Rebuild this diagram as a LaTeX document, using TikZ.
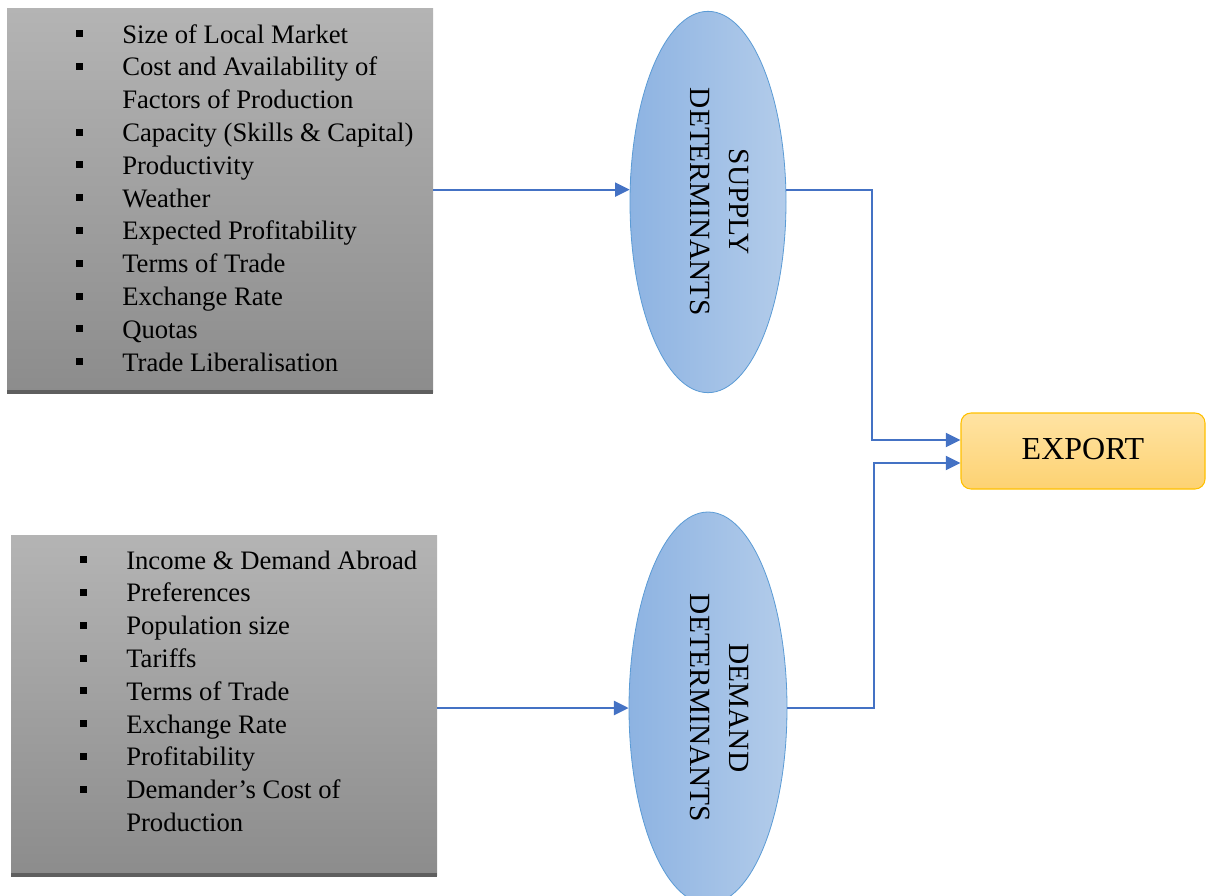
\documentclass[tikz,border=0pt]{standalone}
\usepackage{fontspec}
\setmainfont{Liberation Serif}
\usepackage{graphicx}
\usetikzlibrary{shapes.geometric,arrows.meta,positioning}

\definecolor{boxtop}{HTML}{B4B4B4}
\definecolor{boxbot}{HTML}{8C8C8C}
\definecolor{boxedge}{HTML}{5F5F5F}
\definecolor{ovleft}{HTML}{8DB3E2}
\definecolor{ovright}{HTML}{B3CCEA}
\definecolor{ovedge}{HTML}{5B9BD5}
\definecolor{exptop}{HTML}{FFE3A3}
\definecolor{expbot}{HTML}{FDD272}
\definecolor{expedge}{HTML}{FFC000}
\definecolor{linkblue}{HTML}{4472C4}

%% square bullet, fixed width so the text lines up
\newcommand\sq{\makebox[34.5pt][l]{\rule[4.3pt]{5.3pt}{5.3pt}}}
\newcommand\nosq{\makebox[34.5pt][l]{}}

\tikzset{
  listbox/.style={rectangle, draw=none, top color=boxtop, bottom color=boxbot,
    inner sep=0pt, outer sep=0pt, anchor=north west},
  listtext/.style={inner sep=0pt, anchor=base west,
    font=\fontsize{20}{24.6}\selectfont},
  oval/.style={ellipse, draw=ovedge, line width=0.6pt, left color=ovleft,
    right color=ovright, inner sep=0pt, font=\fontsize{22}{29}\selectfont},
  target/.style={rectangle, rounded corners=7.5pt, draw=expedge, line width=0.8pt,
    top color=exptop, bottom color=expbot, font=\fontsize{24}{29}\selectfont},
  link/.style={draw=linkblue, line width=1.6pt, -{Triangle[length=11pt,width=10.5pt]}},
}

\begin{document}
\begin{tikzpicture}[x=0.75pt, y=-0.75pt]

\useasboundingbox (0,0) rectangle (1208,896);

%% supply side
\node[listbox, minimum width=319.5pt, minimum height=288pt] (supbox) at (7,8) {};
\draw[boxedge, line width=3pt] (supbox.south west) -- (supbox.south east);

\node[listtext] (suplist) at (76,43) {\begin{tabular}[t]{@{}l@{}}
\sq Size of Local Market\\
\sq Cost and Availability of\\
\nosq Factors of Production\\
\sq Capacity (Skills \& Capital)\\
\sq Productivity\\
\sq Weather\\
\sq Expected Profitability\\
\sq Terms of Trade\\
\sq Exchange Rate\\
\sq Quotas\\
\sq Trade Liberalisation
\end{tabular}};

\node[oval, minimum width=117pt, minimum height=286pt] (supply) at (708,202)
  {\hspace*{15pt}\rotatebox{-90}{\begin{tabular}{@{}c@{}}SUPPLY\\DETERMINANTS\end{tabular}}};

%% demand side
\node[listbox, minimum width=319.5pt, minimum height=255pt] (dembox) at (11,535) {};
\draw[boxedge, line width=3pt] (dembox.south west) -- (dembox.south east);

\node[listtext] (demlist) at (80,569) {\begin{tabular}[t]{@{}l@{}}
\sq Income \& Demand Abroad\\
\sq Preferences\\
\sq Population size\\
\sq Tariffs\\
\sq Terms of Trade\\
\sq Exchange Rate\\
\sq Profitability\\
\sq Demander’s Cost of\\
\nosq Production
\end{tabular}};

\node[oval, minimum width=118.5pt, minimum height=294pt] (demand) at (708,708)
  {\hspace*{15pt}\rotatebox{-90}{\begin{tabular}{@{}c@{}}DEMAND\\DETERMINANTS\end{tabular}}};

%% result
\node[target, minimum width=183pt, minimum height=57pt] (export) at (1083,451)
  {\raisebox{3.5pt}{EXPORT}};

%% connectors
\draw[link] (supbox.east |- supply.171) -- (supply.171);
\draw[link] (dembox.east |- demand.west) -- (demand.west);
\draw[link] (supply.9) -- ++(86,0) |- ([yshift=8.25pt]export.west);
\draw[link] (demand.east) -- ++(87,0) |- ([yshift=-9pt]export.west);

\end{tikzpicture}
\end{document}
